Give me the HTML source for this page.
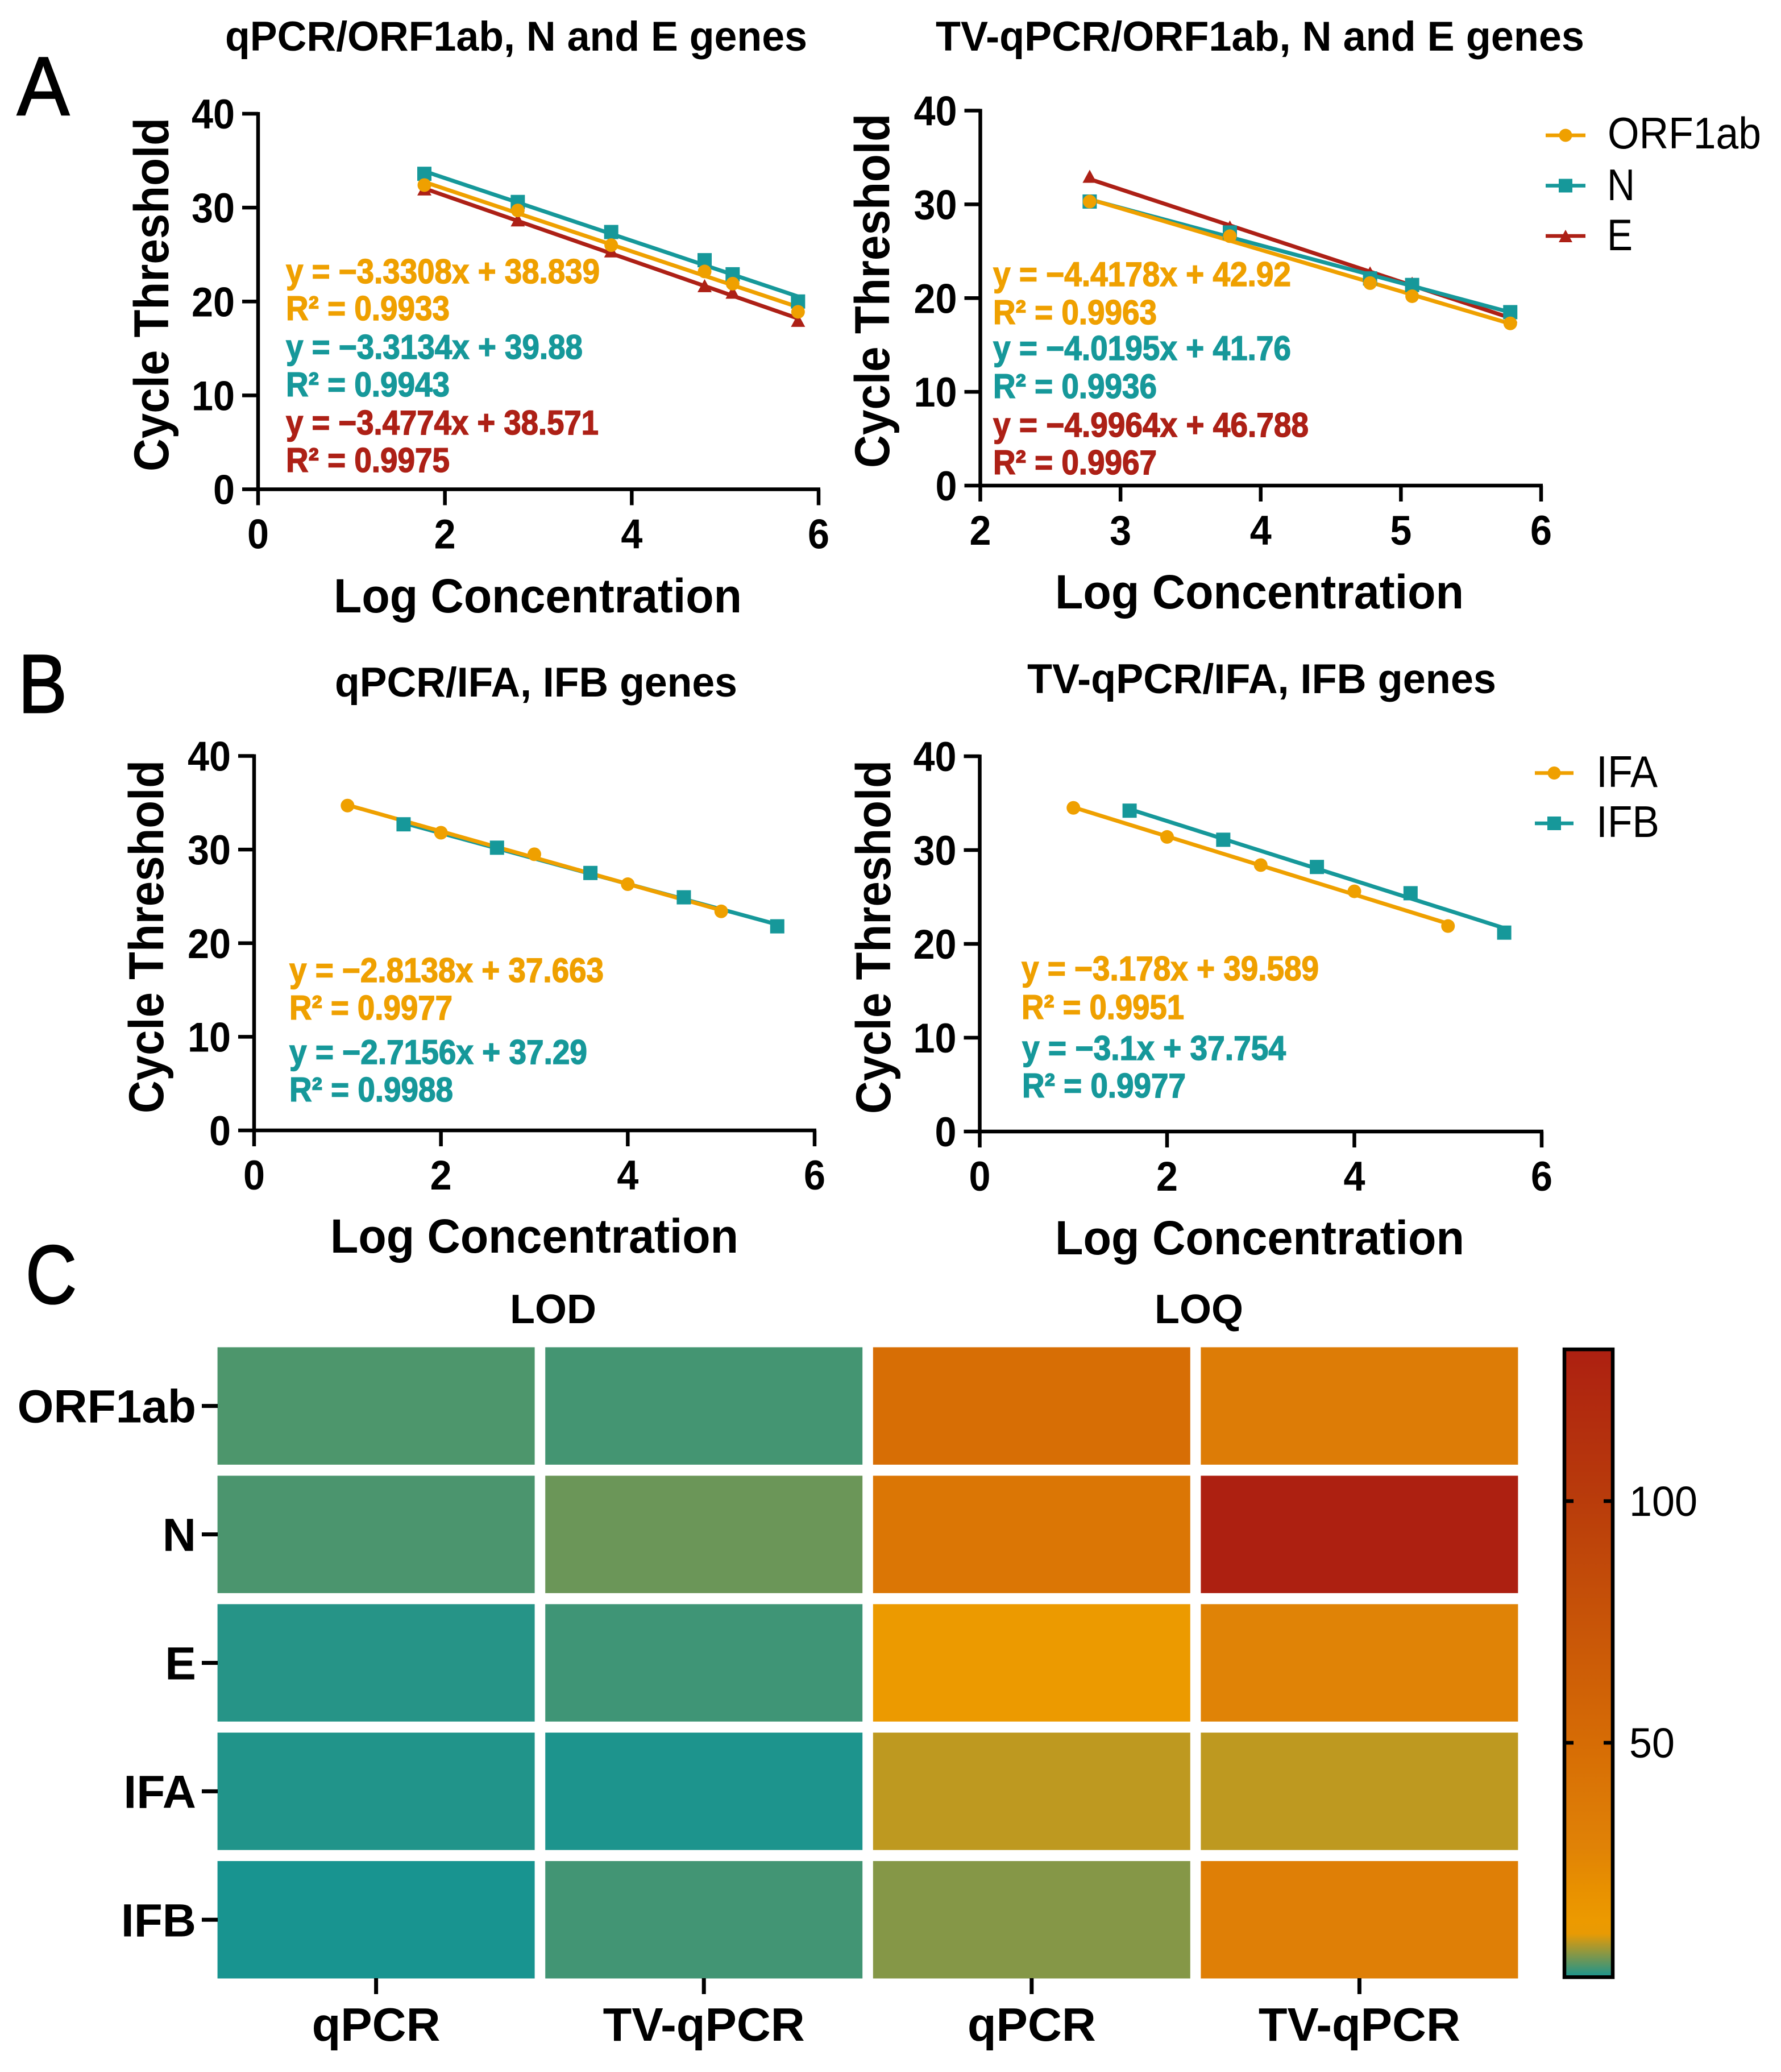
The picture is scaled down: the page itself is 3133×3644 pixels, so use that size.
<!DOCTYPE html>
<html lang="en">
<head>
<meta charset="utf-8">
<title>qPCR and TV-qPCR standard curves with LOD and LOQ heatmap</title>
<style>
  html, body { margin: 0; padding: 0; background: #ffffff; }
  svg { display: block; }
  text { font-family: "Liberation Sans", sans-serif; }
  .ttl { font-weight: 700; font-size: 73px; fill: #000; }
  .xl  { font-weight: 700; font-size: 84px; fill: #000; }
  .yl  { font-weight: 700; font-size: 86px; fill: #000; }
  .eq  { font-weight: 700; font-size: 60px; stroke-width: 1.5px; }
  .leg { font-weight: 400; font-size: 78px; fill: #000; }
  .pan { font-weight: 400; font-size: 146px; fill: #000; stroke: #000; stroke-width: 2.5px; }
  .org { fill: #efa000; stroke: #efa000; }
  .tea { fill: #16989a; stroke: #16989a; }
  .red { fill: #ad2016; stroke: #ad2016; }
</style>
</head>
<body>
<svg id="figure" xmlns="http://www.w3.org/2000/svg" width="3133" height="3644" viewBox="0 0 3133 3644">
  <rect x="0" y="0" width="3133" height="3644" fill="#ffffff"/>

  <text class="pan" x="30" y="202" textLength="92" lengthAdjust="spacingAndGlyphs">A</text>
  <text class="pan" x="32" y="1253" textLength="86" lengthAdjust="spacingAndGlyphs">B</text>
  <text class="pan" x="45" y="2292" textLength="90" lengthAdjust="spacingAndGlyphs">C</text>

  <g>
    <text class="ttl" x="396" y="89" textLength="1024" lengthAdjust="spacingAndGlyphs">qPCR/ORF1ab, N and E genes</text>
    <text class="xl" x="587" y="1077" textLength="718" lengthAdjust="spacingAndGlyphs">Log Concentration</text>
    <text class="yl" transform="translate(296 829) rotate(-90)" textLength="622" lengthAdjust="spacingAndGlyphs">Cycle Threshold</text>
    <text class="eq org" x="503" y="498" textLength="552" lengthAdjust="spacingAndGlyphs">y = −3.3308x + 38.839</text>
    <text class="eq org" x="503" y="563" textLength="288" lengthAdjust="spacingAndGlyphs">R² = 0.9933</text>
    <text class="eq tea" x="503" y="631" textLength="522" lengthAdjust="spacingAndGlyphs">y = −3.3134x + 39.88</text>
    <text class="eq tea" x="503" y="697" textLength="288" lengthAdjust="spacingAndGlyphs">R² = 0.9943</text>
    <text class="eq red" x="503" y="764" textLength="550" lengthAdjust="spacingAndGlyphs">y = −3.4774x + 38.571</text>
    <text class="eq red" x="503" y="830" textLength="288" lengthAdjust="spacingAndGlyphs">R² = 0.9975</text>
  </g>

  <g>
    <text class="ttl" x="1646" y="89" textLength="1141" lengthAdjust="spacingAndGlyphs">TV-qPCR/ORF1ab, N and E genes</text>
    <text class="xl" x="1856" y="1070" textLength="719" lengthAdjust="spacingAndGlyphs">Log Concentration</text>
    <text class="yl" transform="translate(1564 823) rotate(-90)" textLength="623" lengthAdjust="spacingAndGlyphs">Cycle Threshold</text>
    <text class="eq org" x="1747" y="503" textLength="524" lengthAdjust="spacingAndGlyphs">y = −4.4178x + 42.92</text>
    <text class="eq org" x="1747" y="570" textLength="288" lengthAdjust="spacingAndGlyphs">R² = 0.9963</text>
    <text class="eq tea" x="1747" y="633" textLength="524" lengthAdjust="spacingAndGlyphs">y = −4.0195x + 41.76</text>
    <text class="eq tea" x="1747" y="700" textLength="288" lengthAdjust="spacingAndGlyphs">R² = 0.9936</text>
    <text class="eq red" x="1747" y="768" textLength="555" lengthAdjust="spacingAndGlyphs">y = −4.9964x + 46.788</text>
    <text class="eq red" x="1747" y="834" textLength="288" lengthAdjust="spacingAndGlyphs">R² = 0.9967</text>
  </g>

  <g>
    <g>
      <line x1="2719" y1="238" x2="2789" y2="238" stroke="#efa000" stroke-width="6.5"/>
      <circle cx="2754" cy="238" r="11.5" fill="#efa000"/>
      <text class="leg" x="2828" y="261" textLength="270" lengthAdjust="spacingAndGlyphs">ORF1ab</text>
    </g>
    <g>
      <line x1="2719" y1="326.5" x2="2789" y2="326.5" stroke="#16989a" stroke-width="6.5"/>
      <rect x="2742" y="314.5" width="24" height="24" fill="#16989a"/>
      <text class="leg" x="2827" y="352" textLength="49" lengthAdjust="spacingAndGlyphs">N</text>
    </g>
    <g>
      <line x1="2719" y1="415" x2="2789" y2="415" stroke="#ad2016" stroke-width="6.5"/>
      <polygon points="2754,404 2766,426 2742,426" fill="#ad2016"/>
      <text class="leg" x="2827" y="440" textLength="45" lengthAdjust="spacingAndGlyphs">E</text>
    </g>
  </g>

  <g>
    <text class="ttl" x="589" y="1225" textLength="708" lengthAdjust="spacingAndGlyphs">qPCR/IFA, IFB genes</text>
    <text class="xl" x="581" y="2203" textLength="718" lengthAdjust="spacingAndGlyphs">Log Concentration</text>
    <text class="yl" transform="translate(287 1958) rotate(-90)" textLength="621" lengthAdjust="spacingAndGlyphs">Cycle Threshold</text>
    <text class="eq org" x="509" y="1727" textLength="553" lengthAdjust="spacingAndGlyphs">y = −2.8138x + 37.663</text>
    <text class="eq org" x="509" y="1793" textLength="287" lengthAdjust="spacingAndGlyphs">R² = 0.9977</text>
    <text class="eq tea" x="509" y="1871" textLength="524" lengthAdjust="spacingAndGlyphs">y = −2.7156x + 37.29</text>
    <text class="eq tea" x="509" y="1937" textLength="288" lengthAdjust="spacingAndGlyphs">R² = 0.9988</text>
  </g>

  <g>
    <text class="ttl" x="1807" y="1219" textLength="825" lengthAdjust="spacingAndGlyphs">TV-qPCR/IFA, IFB genes</text>
    <text class="xl" x="1856" y="2206" textLength="720" lengthAdjust="spacingAndGlyphs">Log Concentration</text>
    <text class="yl" transform="translate(1566 1959) rotate(-90)" textLength="622" lengthAdjust="spacingAndGlyphs">Cycle Threshold</text>
    <text class="eq org" x="1797" y="1724" textLength="523" lengthAdjust="spacingAndGlyphs">y = −3.178x + 39.589</text>
    <text class="eq org" x="1797" y="1792" textLength="286" lengthAdjust="spacingAndGlyphs">R² = 0.9951</text>
    <text class="eq tea" x="1798" y="1864" textLength="464" lengthAdjust="spacingAndGlyphs">y = −3.1x + 37.754</text>
    <text class="eq tea" x="1798" y="1930" textLength="288" lengthAdjust="spacingAndGlyphs">R² = 0.9977</text>
  </g>

  <g>
    <g>
      <line x1="2700" y1="1359.5" x2="2768" y2="1359.5" stroke="#efa000" stroke-width="6.5"/>
      <circle cx="2734" cy="1359.5" r="11.5" fill="#efa000"/>
      <text class="leg" x="2808" y="1384" textLength="108" lengthAdjust="spacingAndGlyphs">IFA</text>
    </g>
    <g>
      <line x1="2700" y1="1448" x2="2768" y2="1448" stroke="#16989a" stroke-width="6.5"/>
      <rect x="2722" y="1436" width="24" height="24" fill="#16989a"/>
      <text class="leg" x="2808" y="1472" textLength="111" lengthAdjust="spacingAndGlyphs">IFB</text>
    </g>
  </g>

  <text x="973" y="2327" text-anchor="middle" style="font-weight:700;font-size:72px;">LOD</text>
  <text x="2109" y="2327" text-anchor="middle" style="font-weight:700;font-size:72px;">LOQ</text>
</svg>

<script>
// ---------- Standard-curve data ----------
const yTickValues = [0, 10, 20, 30, 40];
const tickX06 = [0, 2, 4, 6];
const tickX26 = [2, 3, 4, 5, 6];

const a1Conc = [1.78, 2.78, 3.78, 4.78, 5.08, 5.78];
const a1Orf1ab = [32.4, 29.7, 26.0, 23.2, 21.9, 18.9];
const a1N = [33.6, 30.6, 27.4, 24.4, 22.9, 20.0];
const a1E = [31.9, 28.6, 25.3, 21.6, 20.9, 17.9];

const a2Conc = [2.78, 3.78, 4.78, 5.08, 5.78];
const a2Orf1ab = [30.3, 26.6, 21.6, 20.2, 17.3];
const a2N = [30.3, 27.0, 22.1, 21.4, 18.5];
const a2E = [32.9, 27.5, 22.6, 21.5, 18.0];

const b1ConcIfa = [1, 2, 3, 4, 5];
const b1Ifa = [34.7, 31.8, 29.5, 26.3, 23.4];
const b1ConcIfb = [1.6, 2.6, 3.6, 4.6, 5.6];
const b1Ifb = [32.7, 30.2, 27.5, 24.9, 21.8];

const b2ConcIfa = [1, 2, 3, 4, 5];
const b2Ifa = [34.5, 31.4, 28.4, 25.6, 21.9];
const b2ConcIfb = [1.6, 2.6, 3.6, 4.6, 5.6];
const b2Ifb = [34.2, 31.1, 28.2, 25.4, 21.2];

// ---------- Heatmap data ----------
const hmRows = ['ORF1ab', 'N', 'E', 'IFA', 'IFB'];
const hmCols = ['qPCR', 'TV-qPCR', 'qPCR', 'TV-qPCR'];
const hmOrf1ab = [3.8, 3.4, 48, 34];
const hmN = [3.7, 5.1, 40, 132];
const hmE = [2.1, 3.2, 13, 28];
const hmIfa = [1.9, 1.7, 8.7, 8.7];
const hmIfb = [1.5, 3.3, 6.2, 31];
const colorbarTicks = [50, 100];
const scaleValues = [1.5, 10.5, 13, 20, 28.5, 50, 100, 131.4];
const scaleColors = ['#189490', '#e89a04', '#ec9a00', '#e89000', '#e08206', '#d66c05', '#b93c0b', '#ad2011'];

const ORANGE = '#efa000', TEAL = '#16989a', RED = '#ad2016';
const SVGNS = 'http://www.w3.org/2000/svg';
const root = document.getElementById('figure');

function make(tag, attrs, parent) {
  const node = document.createElementNS(SVGNS, tag);
  for (const k in attrs) node.setAttribute(k, attrs[k]);
  (parent || root).appendChild(node);
  return node;
}

function fitLine(xs, ys) {
  const n = xs.length;
  const mx = xs.reduce((a, b) => a + b, 0) / n;
  const my = ys.reduce((a, b) => a + b, 0) / n;
  let sxy = 0, sxx = 0;
  for (let i = 0; i < n; i++) { sxy += (xs[i] - mx) * (ys[i] - my); sxx += (xs[i] - mx) * (xs[i] - mx); }
  const m = sxy / sxx;
  return { m: m, b: my - m * mx };
}

function drawPanel(name, f, xTicks, xMin, xMax, seriesList) {
  const sx = v => f.left + (v - xMin) / (xMax - xMin) * (f.right - f.left);
  const sy = v => f.bottom - v / 40 * (f.bottom - f.top);
  const g = make('g', {});
  
  

  // axes
  const yAxis = make('line', { x1: sx(xMin), y1: sy(0) + 3, x2: sx(xMin), y2: sy(40) - 3, stroke: '#000', 'stroke-width': 6.5 }, g);
  
  
  const xAxis = make('line', { x1: sx(xMin) - 3, y1: sy(0), x2: sx(xMax) + 3, y2: sy(0), stroke: '#000', 'stroke-width': 6.5 }, g);
  
  

  yTickValues.forEach(v => {
    const t = make('line', { x1: sx(xMin) - 28, y1: sy(v), x2: sx(xMin), y2: sy(v), stroke: '#000', 'stroke-width': 6.5 }, g);
    
    
    const label = String(v);
    const l = make('text', { x: sx(xMin) - 41 - label.length * f.labelW, y: sy(v) + 26, textLength: label.length * f.labelW, lengthAdjust: 'spacingAndGlyphs', 'font-weight': 700, 'font-size': 73, fill: '#000' }, g);
    
    
    l.textContent = label;
  });
  xTicks.forEach(v => {
    const t = make('line', { x1: sx(v), y1: sy(0), x2: sx(v), y2: sy(0) + 28, stroke: '#000', 'stroke-width': 6.5 }, g);
    
    
    const l = make('text', { x: sx(v) - f.labelW / 2, y: sy(0) + 104, textLength: f.labelW, lengthAdjust: 'spacingAndGlyphs', 'font-weight': 700, 'font-size': 73, fill: '#000' }, g);
    
    
    l.textContent = v;
  });

  // fit lines first, markers above them
  seriesList.forEach(s => {
    const fit = fitLine(s.xs, s.ys);
    const x0 = s.xs[0], x1 = s.xs[s.xs.length - 1];
    const ln = make('line', { x1: sx(x0), y1: sy(fit.m * x0 + fit.b), x2: sx(x1), y2: sy(fit.m * x1 + fit.b), stroke: s.color, 'stroke-width': 7 }, g);
    
    
  });
  seriesList.forEach(s => {
    s.xs.forEach((xv, i) => {
      const cx = sx(xv), cy = sy(s.ys[i]);
      let m;
      if (s.shape === 'circle') {
        m = make('circle', { cx: cx, cy: cy, r: 12, fill: s.color }, g);
      } else if (s.shape === 'square') {
        m = make('rect', { x: cx - 12.5, y: cy - 12.5, width: 25, height: 25, fill: s.color }, g);
      } else {
        m = make('polygon', { points: cx + ',' + (cy - 13) + ' ' + (cx + 12.5) + ',' + (cy + 10) + ' ' + (cx - 12.5) + ',' + (cy + 10), fill: s.color }, g);
      }
      
      
    });
  });
}

drawPanel('chart-a-qpcr', { left: 454, right: 1440, top: 200, bottom: 860.5, labelW: 38 }, tickX06, 0, 6, [
  { key: 'e', xs: a1Conc, ys: a1E, color: RED, shape: 'triangle' },
  { key: 'n', xs: a1Conc, ys: a1N, color: TEAL, shape: 'square' },
  { key: 'orf1ab', xs: a1Conc, ys: a1Orf1ab, color: ORANGE, shape: 'circle' }
]);
drawPanel('chart-a-tv-qpcr', { left: 1724.5, right: 2711, top: 194.5, bottom: 854, labelW: 38 }, tickX26, 2, 6, [
  { key: 'e', xs: a2Conc, ys: a2E, color: RED, shape: 'triangle' },
  { key: 'n', xs: a2Conc, ys: a2N, color: TEAL, shape: 'square' },
  { key: 'orf1ab', xs: a2Conc, ys: a2Orf1ab, color: ORANGE, shape: 'circle' }
]);
drawPanel('chart-b-qpcr', { left: 447, right: 1433, top: 1329.5, bottom: 1988, labelW: 38 }, tickX06, 0, 6, [
  { key: 'ifb', xs: b1ConcIfb, ys: b1Ifb, color: TEAL, shape: 'square' },
  { key: 'ifa', xs: b1ConcIfa, ys: b1Ifa, color: ORANGE, shape: 'circle' }
]);
drawPanel('chart-b-tv-qpcr', { left: 1723.5, right: 2712, top: 1330, bottom: 1990, labelW: 38 }, tickX06, 0, 6, [
  { key: 'ifb', xs: b2ConcIfb, ys: b2Ifb, color: TEAL, shape: 'square' },
  { key: 'ifa', xs: b2ConcIfa, ys: b2Ifa, color: ORANGE, shape: 'circle' }
]);

// ---------- Heatmap ----------
function hexToRgb(h) { return [parseInt(h.slice(1, 3), 16), parseInt(h.slice(3, 5), 16), parseInt(h.slice(5, 7), 16)]; }
function colorFor(v) {
  if (v <= scaleValues[0]) return scaleColors[0];
  for (let i = 1; i < scaleValues.length; i++) {
    if (v <= scaleValues[i]) {
      const t = (v - scaleValues[i - 1]) / (scaleValues[i] - scaleValues[i - 1]);
      const a = hexToRgb(scaleColors[i - 1]), b = hexToRgb(scaleColors[i]);
      return 'rgb(' + a.map((c, k) => Math.round(c + (b[k] - c) * t)).join(',') + ')';
    }
  }
  return scaleColors[scaleColors.length - 1];
}

const heatmapValues = [hmOrf1ab, hmN, hmE, hmIfa, hmIfb];
const hmG = make('g', {});


const bandX = i => 382.6 + i * 576.6;
const bandY = j => 2369.4 + j * 225.9;
const cellW = 558, cellH = 206.5;

heatmapValues.forEach((row, j) => {
  row.forEach((v, i) => {
    const c = make('rect', { x: bandX(i), y: bandY(j), width: cellW, height: cellH, fill: colorFor(v) }, hmG);
    
    
  });
  const cy = bandY(j) + cellH / 2;
  const t = make('line', { x1: 355, y1: cy, x2: 383, y2: cy, stroke: '#000', 'stroke-width': 7 }, hmG);
  
  
  const l = make('text', { x: 345, y: cy + 29, 'text-anchor': 'end', 'font-weight': 700, 'font-size': 82, fill: '#000' }, hmG);
  
  
  l.textContent = hmRows[j];
});
hmCols.forEach((name, i) => {
  const cx = bandX(i) + cellW / 2;
  const t = make('line', { x1: cx, y1: 3479, x2: cx, y2: 3507, stroke: '#000', 'stroke-width': 7 }, hmG);
  
  
  const l = make('text', { x: cx, y: 3589, 'text-anchor': 'middle', 'font-weight': 700, 'font-size': 83, fill: '#000' }, hmG);
  
  
  l.textContent = name;
});

// ---------- Colour bar ----------
const cbY = v => 2640 + (100 - v) * 8.5;
const cbMax = scaleValues[scaleValues.length - 1], cbMin = scaleValues[0];
const defs = make('defs', {});
const grad = make('linearGradient', { id: 'cbGrad', x1: 0, y1: 1, x2: 0, y2: 0 }, defs);
scaleValues.forEach((v, i) => {
  make('stop', { offset: (cbY(cbMin) - cbY(v)) / (cbY(cbMin) - cbY(cbMax)), 'stop-color': scaleColors[i] }, grad);
});
const cbG = make('g', {});


const cbRect = make('rect', { x: 2752, y: cbY(cbMax), width: 85, height: cbY(cbMin) - cbY(cbMax), fill: 'url(#cbGrad)', stroke: '#000', 'stroke-width': 6.5 }, cbG);


colorbarTicks.forEach(v => {
  const y = cbY(v);
  const a = make('line', { x1: 2752, y1: y, x2: 2768, y2: y, stroke: '#000', 'stroke-width': 6.5 }, cbG);
  
  
  const b = make('line', { x1: 2821, y1: y, x2: 2837, y2: y, stroke: '#000', 'stroke-width': 6.5 }, cbG);
  
  
  const label = String(v);
  const l = make('text', { x: 2866, y: y + 26, textLength: label.length * 40, lengthAdjust: 'spacingAndGlyphs', 'font-weight': 400, 'font-size': 74, fill: '#000' }, cbG);
  
  
  l.textContent = label;
});
</script>
</body>
</html>
